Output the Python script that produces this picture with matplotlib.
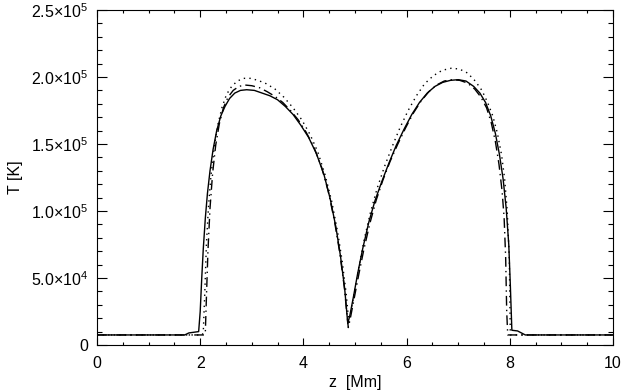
import numpy as np
import matplotlib
matplotlib.use("Agg")
import matplotlib.pyplot as plt
from matplotlib.ticker import MultipleLocator, FuncFormatter

plt.rcParams['font.family'] = ['Liberation Sans', 'DejaVu Sans']
plt.rcParams['mathtext.fontset'] = 'custom'
plt.rcParams['mathtext.rm'] = 'Liberation Sans'
plt.rcParams['mathtext.it'] = 'Liberation Sans'

# solid run
z_solid = [0.0, 1.70, 1.78, 1.97, 2.00, 2.03, 2.06, 2.10, 2.14, 2.19, 2.25, 2.32, 2.40,
           2.48, 2.57, 2.67, 2.78, 2.90, 3.05, 3.20, 3.35, 3.50, 3.65, 3.80, 3.95,
           4.10, 4.25, 4.40, 4.52, 4.63, 4.72, 4.80, 4.86, 4.90, 4.97, 5.05, 5.15,
           5.27, 5.39, 5.52, 5.66, 5.80, 5.95, 6.10, 6.25, 6.40, 6.55, 6.70, 6.85,
           7.00, 7.15, 7.30, 7.42, 7.53, 7.63, 7.72, 7.80, 7.87, 7.93, 7.98, 8.01,
           8.04, 8.15, 8.30, 10.0]
T_solid = [7.5e3, 7.5e3, 9.0e3, 1.0e4, 2.5e4, 5.0e4, 7.2e4, 9.5e4, 1.13e5, 1.30e5, 1.46e5,
           1.60e5, 1.71e5, 1.78e5, 1.84e5, 1.88e5, 1.90e5, 1.905e5, 1.90e5, 1.88e5,
           1.86e5, 1.83e5, 1.78e5, 1.72e5, 1.64e5, 1.55e5, 1.43e5, 1.27e5, 1.09e5,
           8.8e4, 6.6e4, 4.2e4, 1.6e4, 2.2e4, 3.6e4, 5.3e4, 7.2e4, 9.2e4, 1.08e5,
           1.22e5, 1.36e5, 1.49e5, 1.61e5, 1.72e5, 1.81e5, 1.88e5, 1.93e5, 1.96e5,
           1.975e5, 1.98e5, 1.97e5, 1.93e5, 1.88e5, 1.81e5, 1.71e5, 1.58e5, 1.42e5,
           1.24e5, 1.02e5, 7.5e4, 4.5e4, 1.1e4, 1.05e4, 7.5e3, 7.5e3]

# dotted run
z_dot = [0.0, 2.04, 2.06, 2.09, 2.12, 2.16, 2.21, 2.27, 2.34, 2.42, 2.51, 2.61, 2.72,
         2.84, 2.97, 3.12, 3.28, 3.45, 3.62, 3.80, 3.97, 4.13, 4.28, 4.42, 4.55, 4.66,
         4.75, 4.83, 4.88, 4.92, 4.99, 5.08, 5.18, 5.30, 5.43, 5.57, 5.72, 5.87, 6.03,
         6.19, 6.35, 6.52, 6.69, 6.86, 7.02, 7.18, 7.33, 7.46, 7.57, 7.67, 7.76, 7.84,
         7.90, 7.95, 7.99, 8.01, 10.0]
T_dot = [7.5e3, 7.5e3, 1.0e4, 4.0e4, 7.5e4, 1.03e5, 1.27e5, 1.47e5, 1.64e5, 1.77e5,
         1.87e5, 1.93e5, 1.97e5, 1.99e5, 1.99e5, 1.975e5, 1.95e5, 1.91e5, 1.85e5,
         1.77e5, 1.68e5, 1.57e5, 1.44e5, 1.27e5, 1.07e5, 8.5e4, 6.3e4, 3.8e4, 1.7e4,
         2.5e4, 4.0e4, 5.9e4, 7.9e4, 9.9e4, 1.17e5, 1.33e5, 1.48e5, 1.62e5, 1.75e5,
         1.86e5, 1.95e5, 2.01e5, 2.05e5, 2.065e5, 2.06e5, 2.03e5, 1.97e5, 1.90e5,
         1.81e5, 1.71e5, 1.58e5, 1.42e5, 1.24e5, 1.00e5, 6.5e4, 7.5e3, 7.5e3]

# dash-dot run
z_dd = [0.0, 2.08, 2.10, 2.12, 2.15, 2.19, 2.24, 2.30, 2.37, 2.45, 2.54, 2.64, 2.75,
        2.87, 3.00, 3.15, 3.30, 3.45, 3.60, 3.75, 3.90, 4.05, 4.20, 4.35, 4.48, 4.60,
        4.70, 4.79, 4.87, 4.91, 4.98, 5.07, 5.17, 5.29, 5.41, 5.54, 5.68, 5.83, 5.98,
        6.13, 6.28, 6.43, 6.58, 6.73, 6.88, 7.03, 7.18, 7.32, 7.44, 7.55, 7.64, 7.72,
        7.79, 7.85, 7.89, 7.92, 7.94, 7.96, 10.0]
T_dd = [7.5e3, 7.5e3, 1.0e4, 3.5e4, 7.0e4, 1.02e5, 1.28e5, 1.49e5, 1.65e5, 1.77e5,
        1.85e5, 1.90e5, 1.93e5, 1.94e5, 1.935e5, 1.92e5, 1.89e5, 1.855e5, 1.81e5,
        1.75e5, 1.68e5, 1.59e5, 1.48e5, 1.33e5, 1.15e5, 9.3e4, 7.0e4, 4.4e4, 1.3e4,
        2.0e4, 3.4e4, 5.2e4, 7.1e4, 9.1e4, 1.08e5, 1.23e5, 1.37e5, 1.50e5, 1.62e5,
        1.73e5, 1.82e5, 1.89e5, 1.94e5, 1.97e5, 1.98e5, 1.975e5, 1.955e5, 1.91e5,
        1.85e5, 1.77e5, 1.66e5, 1.52e5, 1.35e5, 1.15e5, 9.5e4, 6.5e4, 2.5e4, 7.5e3,
        7.5e3]


def sci_fmt(v, pos):
    if v == 0:
        return '0'
    e = int(np.floor(np.log10(abs(v))))
    m = v / 10 ** e
    return r'%.1f$\times$10$^{%d}$' % (m, e)


fig = plt.figure(figsize=(6.23, 3.92), dpi=100)
ax = fig.add_axes([97 / 623, 47 / 392, 516 / 623, 335 / 392])

ax.plot(z_solid, T_solid, color='black', lw=1.0, ls='-')
ax.plot(z_dot, T_dot, color='black', lw=1.0, ls=(0, (1, 3)))
ax.plot(z_dd, T_dd, color='black', lw=1.0, ls=(0, (7, 3, 1, 3)))

ax.set_xlim(0, 10)
ax.set_ylim(0, 2.5e5)
ax.xaxis.set_major_locator(MultipleLocator(2))
ax.xaxis.set_minor_locator(MultipleLocator(0.5))
ax.yaxis.set_major_locator(MultipleLocator(5e4))
ax.yaxis.set_minor_locator(MultipleLocator(1e4))
ax.yaxis.set_major_formatter(FuncFormatter(sci_fmt))

ax.tick_params(axis='x', which='major', direction='in', length=4.8, width=0.8,
               top=True, bottom=True, labelsize=11.5, pad=8)
ax.tick_params(axis='x', which='minor', direction='in', length=2.4, width=0.8,
               top=True, bottom=True)
ax.tick_params(axis='y', which='major', direction='in', length=7.4, width=0.8,
               left=True, right=True, labelsize=11.5, pad=6)
ax.tick_params(axis='y', which='minor', direction='in', length=3.7, width=0.8,
               left=True, right=True)
for s in ax.spines.values():
    s.set_linewidth(0.8)

ax.set_xlabel('z  [Mm]', fontsize=11.5, labelpad=3)
ax.set_ylabel('T [K]', fontsize=11.5, labelpad=6)

fig.savefig('out.png', dpi=100)
